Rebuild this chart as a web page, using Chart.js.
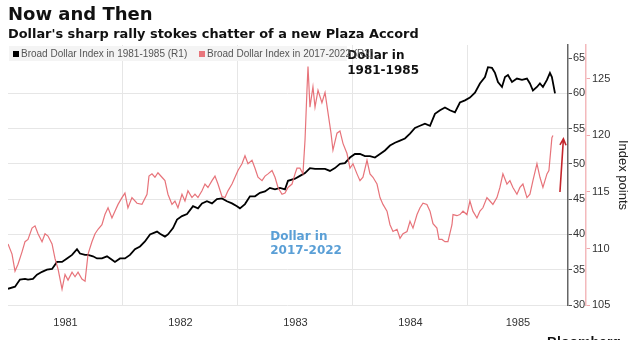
<!DOCTYPE html>
<html>
<head>
<meta charset="utf-8">
<script src="https://cdn.jsdelivr.net/npm/chart.js@4.4.0/dist/chart.umd.min.js"></script>
<style>
    html, body { margin: 0; padding: 0; background: #fff; }
    #wrap { position: relative; width: 634px; height: 340px; overflow: hidden; }
    #chart { position: absolute; left: 0; top: 0; }
    .title { position: absolute; left: 8px; top: 5px; font: bold 18px "DejaVu Sans", sans-serif; line-height: 18px; color: #111; }
    .subtitle { position: absolute; left: 8px; top: 27px; font: bold 12.9px "DejaVu Sans", sans-serif; line-height: 13px; color: #111; white-space: nowrap; }
    .legend { position: absolute; left: 9px; top: 46px; height: 15px; width: 338px; background: #f4f4f4; font: 10px "Liberation Sans", Arial, sans-serif; color: #555; line-height: 15px; white-space: nowrap; }
    .legend span.item { position: absolute; top: 0; }
    .legend i { display: inline-block; width: 6px; height: 6px; margin-right: 2px; vertical-align: 0px; }
    .source { position: absolute; left: 547px; top: 334px; font: bold 14px "Liberation Sans", Arial, sans-serif; color: #111; }
</style>
</head>
<body>
<div id="wrap">
    <canvas id="chart" width="634" height="340"></canvas>
    <div class="title">Now and Then</div>
    <div class="subtitle">Dollar's sharp rally stokes chatter of a new Plaza Accord</div>
    <div class="legend" id="legend"></div>
    <div class="source">Bloomberg</div>
</div>
<script>
// x is years since Jan 1981; the 2017-2022 series is laid over the same timeline
const blackT = [0, .061, .104, .148, .174, .217, .252, .296, .339, .383,
    .426, .470, .513, .557, .600, .626, .670, .696, .739, .774,
    .817, .861, .904, .930, .974, 1.017, 1.061, 1.104, 1.148, 1.191,
    1.235, 1.296, 1.322, 1.365, 1.391, 1.435, 1.470, 1.513, 1.557, 1.609,
    1.652, 1.687, 1.730, 1.774, 1.817, 1.861, 1.904, 1.948, 1.991, 2.017,
    2.061, 2.104, 2.148, 2.191, 2.235, 2.278, 2.322, 2.365, 2.409, 2.435,
    2.496, 2.539, 2.583, 2.626, 2.670, 2.713, 2.757, 2.800, 2.843, 2.887,
    2.930, 2.974, 3.017, 3.061, 3.104, 3.148, 3.191, 3.235, 3.278, 3.322,
    3.365, 3.409, 3.452, 3.496, 3.539, 3.583, 3.626, 3.670, 3.713, 3.757,
    3.800, 3.843, 3.887, 3.930, 3.974, 4.017, 4.061, 4.104, 4.148, 4.174,
    4.209, 4.235, 4.261, 4.296, 4.322, 4.348, 4.383, 4.426, 4.470, 4.513,
    4.539, 4.565, 4.600, 4.626, 4.652, 4.687, 4.713, 4.730, 4.757];
const blackIndex = [32.3, 32.6, 33.6, 33.7, 33.6, 33.7, 34.3, 34.7, 35.0, 35.1,
    36.1, 36.1, 36.6, 37.1, 37.9, 37.3, 37.1, 37.1, 36.9, 36.6,
    36.6, 36.9, 36.4, 36.1, 36.6, 36.6, 37.1, 37.9, 38.3, 39.0,
    40.0, 40.4, 40.1, 39.7, 40.0, 40.9, 42.1, 42.6, 42.9, 44.0,
    43.7, 44.4, 44.7, 44.4, 45.0, 45.1, 44.7, 44.4, 44.0, 43.7,
    44.3, 45.4, 45.4, 45.9, 46.1, 46.6, 46.4, 46.6, 46.4, 47.6,
    47.9, 48.3, 48.7, 49.4, 49.3, 49.3, 49.3, 49.0, 49.4, 50.0,
    50.1, 50.9, 51.4, 51.4, 51.1, 51.1, 50.9, 51.4, 51.9, 52.6,
    53.0, 53.3, 53.6, 54.3, 55.1, 55.4, 55.7, 55.4, 57.1, 57.6,
    58.0, 57.6, 57.3, 58.7, 59.0, 59.4, 60.1, 61.4, 62.3, 63.7,
    63.6, 62.9, 61.6, 60.9, 62.3, 62.6, 61.6, 62.1, 61.9, 62.1,
    61.4, 60.4, 60.9, 61.4, 60.9, 61.9, 62.9, 62.3, 60.0];

const redT = [0, .035, .061, .087, .122, .148, .174, .209, .235, .261,
    .296, .322, .348, .383, .409, .435, .470, .496, .522, .557,
    .583, .609, .643, .670, .696, .730, .757, .783, .817, .843,
    .870, .904, .930, .957, .991, 1.017, 1.043, 1.078, 1.122, 1.165,
    1.209, 1.226, 1.252, 1.278, 1.304, 1.339, 1.365, 1.391, 1.426, 1.452,
    1.478, 1.513, 1.539, 1.565, 1.600, 1.626, 1.652, 1.687, 1.713, 1.739,
    1.774, 1.800, 1.826, 1.861, 1.887, 1.913, 1.948, 1.974, 2.000, 2.035,
    2.061, 2.087, 2.122, 2.148, 2.174, 2.209, 2.235, 2.261, 2.296, 2.322,
    2.348, 2.383, 2.409, 2.435, 2.470, 2.496, 2.513, 2.539, 2.565, 2.583,
    2.600, 2.609, 2.626, 2.652, 2.670, 2.696, 2.730, 2.757, 2.783, 2.809,
    2.826, 2.861, 2.887, 2.913, 2.948, 2.974, 3.000, 3.035, 3.061, 3.087,
    3.122, 3.148, 3.174, 3.209, 3.235, 3.261, 3.296, 3.322, 3.348, 3.383,
    3.409, 3.435, 3.470, 3.496, 3.522, 3.557, 3.583, 3.609, 3.643, 3.670,
    3.696, 3.730, 3.748, 3.774, 3.800, 3.826, 3.861, 3.870, 3.904, 3.930,
    3.957, 3.991, 4.017, 4.043, 4.078, 4.104, 4.130, 4.165, 4.191, 4.217,
    4.252, 4.278, 4.304, 4.339, 4.365, 4.391, 4.426, 4.452, 4.478, 4.513,
    4.539, 4.565, 4.600, 4.626, 4.652, 4.687, 4.704, 4.730, 4.739];
const redIndex = [110.4, 109.5, 108.0, 108.6, 109.7, 110.6, 110.8, 111.8, 112.0, 111.3,
    110.6, 111.3, 111.1, 110.4, 109.1, 108.2, 106.4, 107.7, 107.2, 107.9,
    107.5, 107.9, 107.3, 107.1, 109.5, 110.6, 111.3, 111.7, 112.1, 113.0,
    113.6, 112.7, 113.3, 113.9, 114.5, 114.9, 113.6, 114.5, 114.0, 113.9,
    114.8, 116.4, 116.6, 116.3, 116.7, 116.3, 116.0, 114.8, 113.9, 114.2,
    113.6, 114.8, 114.2, 115.1, 114.5, 114.8, 114.5, 115.1, 115.7, 115.4,
    116.0, 116.4, 115.7, 114.6, 114.5, 115.1, 115.7, 116.3, 116.9, 117.5,
    118.2, 117.5, 117.8, 117.1, 116.3, 116.0, 116.4, 116.6, 116.9, 116.3,
    115.4, 114.8, 114.9, 115.4, 115.7, 116.6, 117.1, 117.1, 116.6, 119.6,
    124.0, 126.1, 122.5, 124.3, 122.5, 124.0, 122.9, 123.8, 122.0, 120.2,
    118.7, 120.2, 120.4, 119.3, 118.4, 117.1, 117.5, 116.6, 116.0, 116.3,
    117.8, 116.6, 116.3, 115.7, 114.5, 113.9, 113.3, 112.1, 111.5, 111.7,
    110.9, 111.3, 111.5, 112.4, 111.8, 113.0, 113.6, 114.0, 113.9, 113.3,
    112.2, 111.8, 110.8, 110.8, 110.6, 110.6, 112.1, 113.0, 112.9, 113.0,
    113.3, 113.0, 114.2, 113.3, 112.7, 113.3, 113.6, 114.5, 114.2, 113.9,
    114.5, 115.4, 116.6, 115.7, 116.0, 115.4, 114.8, 115.4, 115.7, 114.5,
    114.8, 116.0, 117.5, 116.3, 115.4, 116.6, 116.9, 119.8, 120.0];

const yearLabels = ['1981', '1982', '1983', '1984', '1985'];
const startYear = 1981;
const endYear = 1985.87;
const leftTicks = [30, 35, 40, 45, 50, 55, 60, 65];
const rightTicks = [105, 110, 115, 120, 125];

const seriesNames = ['Broad Dollar Index in 1981-1985 (R1)', 'Broad Dollar Index in 2017-2022 (R2)'];
const seriesColors = ['#000000', '#e8767c'];

const notes = [
    { lines: ['Dollar in', '1981-1985'], x: 1983.95, y: 65.3, color: '#111' },
    { lines: ['Dollar in', '2017-2022'], x: 1983.28, y: 39.7, color: '#5a9fd6' }
];
const arrow = { from: [1985.80, 115.0], to: [1985.83, 119.7] };

const toPoints = (ts, vals) => ts.map((t, i) => ({ x: startYear + t, y: vals[i] }));

// legend as html
const legend = document.getElementById('legend');
[4, 190].forEach((left, i) => {
    const item = document.createElement('span');
    item.className = 'item';
    item.style.left = left + 'px';
    item.innerHTML = `<i style="background:${seriesColors[i]}"></i>${seriesNames[i]}`;
    legend.appendChild(item);
});

const notesPlugin = {
    id: 'notes',
    afterDatasetsDraw(chart) {
        const { ctx, scales } = chart;
        ctx.save();
        ctx.font = 'bold 12px "DejaVu Sans", sans-serif';
        ctx.textBaseline = 'middle';
        ctx.textAlign = 'left';
        notes.forEach(n => {
            const px = scales.x.getPixelForValue(n.x);
            const py = scales.y.getPixelForValue(n.y);
            ctx.fillStyle = n.color;
            n.lines.forEach((line, i) => ctx.fillText(line, px, py + i * 14.5));
        });
        // red arrow on the 2017-2022 scale
        const x1 = scales.x.getPixelForValue(arrow.from[0]);
        const y1 = scales.y2.getPixelForValue(arrow.from[1]);
        const x2 = scales.x.getPixelForValue(arrow.to[0]);
        const y2 = scales.y2.getPixelForValue(arrow.to[1]);
        const ang = Math.atan2(y2 - y1, x2 - x1);
        ctx.strokeStyle = '#c4262c';
        ctx.lineWidth = 1.6;
        ctx.beginPath();
        ctx.moveTo(x1, y1);
        ctx.lineTo(x2, y2);
        ctx.moveTo(x2 - 7 * Math.cos(ang - 0.45), y2 - 7 * Math.sin(ang - 0.45));
        ctx.lineTo(x2, y2);
        ctx.lineTo(x2 - 7 * Math.cos(ang + 0.45), y2 - 7 * Math.sin(ang + 0.45));
        ctx.stroke();
        ctx.restore();
    }
};

new Chart(document.getElementById('chart'), {
    type: 'line',
    data: {
        datasets: [{
            label: seriesNames[1],
            data: toPoints(redT, redIndex),
            yAxisID: 'y2',
            borderColor: 'rgba(228, 100, 108, 0.9)',
            borderWidth: 1.2,
            pointRadius: 0,
            tension: 0
        }, {
            label: seriesNames[0],
            data: toPoints(blackT, blackIndex),
            yAxisID: 'y',
            borderColor: seriesColors[0],
            borderWidth: 1.8,
            pointRadius: 0,
            tension: 0
        }]
    },
    options: {
        responsive: false,
        animation: false,
        devicePixelRatio: 1,
        layout: { padding: { left: 8, top: 45, right: 0, bottom: 0 } },
        plugins: { legend: { display: false }, tooltip: { enabled: false } },
        scales: {
            x: {
                type: 'linear',
                position: 'bottom',
                min: startYear,
                max: endYear,
                afterBuildTicks: (s) => { s.ticks = yearLabels.slice(1).map(y => ({ value: +y })); },
                ticks: { display: false },
                grid: { color: '#e6e6e6', drawTicks: false },
                border: { display: false },
                afterFit: (s) => { s.height = 0; }
            },
            xl: {
                type: 'linear',
                position: 'bottom',
                min: startYear,
                max: endYear,
                afterBuildTicks: (s) => {
                    s.ticks = yearLabels.map(y => {
                        const a = Math.max(+y, startYear), b = Math.min(+y + 1, endYear);
                        return { value: (a + b) / 2 };
                    });
                },
                ticks: {
                    callback: (v, i) => yearLabels[i],
                    color: '#333',
                    font: { family: '"Liberation Sans", Arial, sans-serif', size: 11 },
                    padding: 11,
                    maxRotation: 0,
                    autoSkip: false
                },
                grid: { display: false, drawTicks: false },
                border: { display: false },
                afterFit: (s) => { s.height = 35; }
            },
            y: {
                position: 'right',
                weight: 0,
                min: 30,
                max: 66.85,
                afterBuildTicks: (s) => { s.ticks = leftTicks.map(v => ({ value: v })); },
                ticks: {
                    color: '#333',
                    font: { family: '"Liberation Sans", Arial, sans-serif', size: 11 },
                    padding: 1
                },
                grid: {
                    color: (c) => (c.tick && c.tick.value === 65 ? 'rgba(0,0,0,0)' : '#e6e6e6'),
                    tickColor: '#555',
                    tickLength: 4
                },
                border: { color: '#666', width: 1.5 },
                afterFit: (s) => { s.width = 18; }
            },
            y2: {
                position: 'right',
                weight: 1,
                min: 105,
                max: 128,
                afterBuildTicks: (s) => { s.ticks = rightTicks.map(v => ({ value: v })); },
                ticks: {
                    color: '#333',
                    font: { family: '"Liberation Sans", Arial, sans-serif', size: 11 },
                    padding: 2
                },
                grid: { drawOnChartArea: false, tickColor: '#f0a9ad', tickLength: 4 },
                border: { color: '#f3b9bc', width: 1.5 },
                title: {
                    display: true,
                    text: 'Index points',
                    color: '#222',
                    font: { family: '"Liberation Sans", Arial, sans-serif', size: 13 },
                    padding: { top: 4, bottom: 0 }
                },
                afterFit: (s) => { s.width = 48; }
            }
        }
    },
    plugins: [notesPlugin]
});
</script>
</body>
</html>
